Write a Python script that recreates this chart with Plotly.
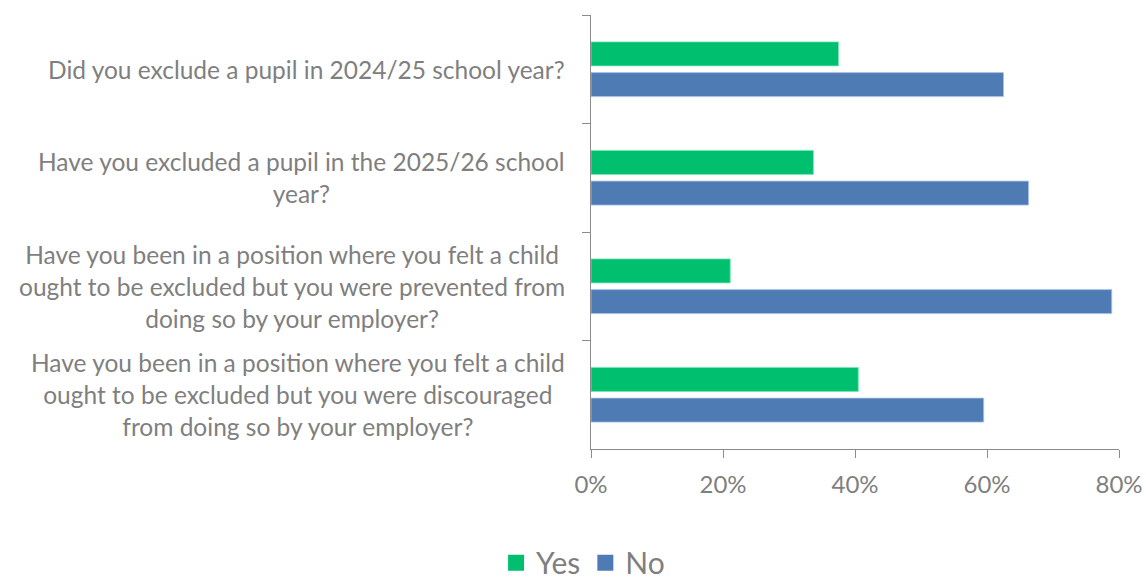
import plotly.graph_objects as go

# Survey questions (wrapped as they appear beside the bars)
questions = [
    "Did you exclude a pupil in 2024/25 school year?",
    "Have you excluded a pupil in the 2025/26 school<br>year?",
    "Have you been in a position where you felt a child<br>ought to be excluded but you were prevented from<br>doing so by your employer?",
    "Have you been in a position where you felt a child<br>ought to be excluded but you were discouraged<br>from doing so by your employer?",
]
yes_pct = [37.5, 33.7, 21.1, 40.5]
no_pct = [62.5, 66.3, 78.9, 59.5]
x_ticks = [0, 20, 40, 60, 80]
x_tick_labels = ["0%", "20%", "40%", "60%", "80%"]

GREEN = "#00BF6F"
BLUE = "#4F7BB4"
TEXT = "#7F7F7F"
AXIS = "#8C8C8C"
FONT = "Lato, 'Open Sans', sans-serif"

fig = go.Figure()
fig.add_trace(go.Bar(
    y=questions, x=yes_pct, name="Yes", orientation="h",
    marker=dict(color=GREEN, line=dict(color="rgba(120,230,180,0.8)", width=1)),
    showlegend=False,
))
fig.add_trace(go.Bar(
    y=questions, x=no_pct, name="No", orientation="h",
    marker=dict(color=BLUE, line=dict(color="rgba(170,195,230,0.8)", width=1)),
    showlegend=False,
))
# legend keys
for name, col in [("Yes", GREEN), ("No", BLUE)]:
    fig.add_trace(go.Scatter(
        x=[None], y=[None], mode="markers", name=name,
        marker=dict(symbol="square", size=16, color=col),
    ))

# question labels, centred line by line, to the left of the axis
for q in questions:
    fig.add_annotation(
        x=0, xref="paper", y=q, yref="y",
        text=q, showarrow=False, xanchor="right", yanchor="middle",
        align="center", xshift=-24,
        font=dict(family=FONT, size=24.5, color=TEXT),
    )

fig.update_layout(
    width=1146, height=580,
    margin=dict(l=591, r=27, t=15, b=131, autoexpand=False),
    paper_bgcolor="white", plot_bgcolor="white",
    barmode="group", bargap=0.434, bargroupgap=0.218,
    font=dict(family=FONT, color=TEXT),
    legend=dict(
        orientation="h", x=-0.015, xanchor="center", y=-0.262, yanchor="middle",
        font=dict(family=FONT, size=30, color=TEXT), itemsizing="trace",
        bgcolor="rgba(0,0,0,0)",
    ),
    xaxis=dict(
        range=[0, 80], tickmode="array", tickvals=x_ticks, ticktext=x_tick_labels,
        showgrid=False, zeroline=False,
        showline=True, linecolor=AXIS, linewidth=1,
        ticks="outside", ticklen=8, tickcolor=AXIS,
        tickfont=dict(family=FONT, size=24, color=TEXT),
        ticklabelstandoff=6,
    ),
    yaxis=dict(
        type="category", categoryorder="array", categoryarray=questions,
        autorange="reversed", showticklabels=False,
        showgrid=False, zeroline=False,
        showline=True, linecolor=AXIS, linewidth=1,
        ticks="outside", ticklen=8, tickcolor=AXIS, tickson="boundaries",
    ),
)

fig.write_html("out.html")
